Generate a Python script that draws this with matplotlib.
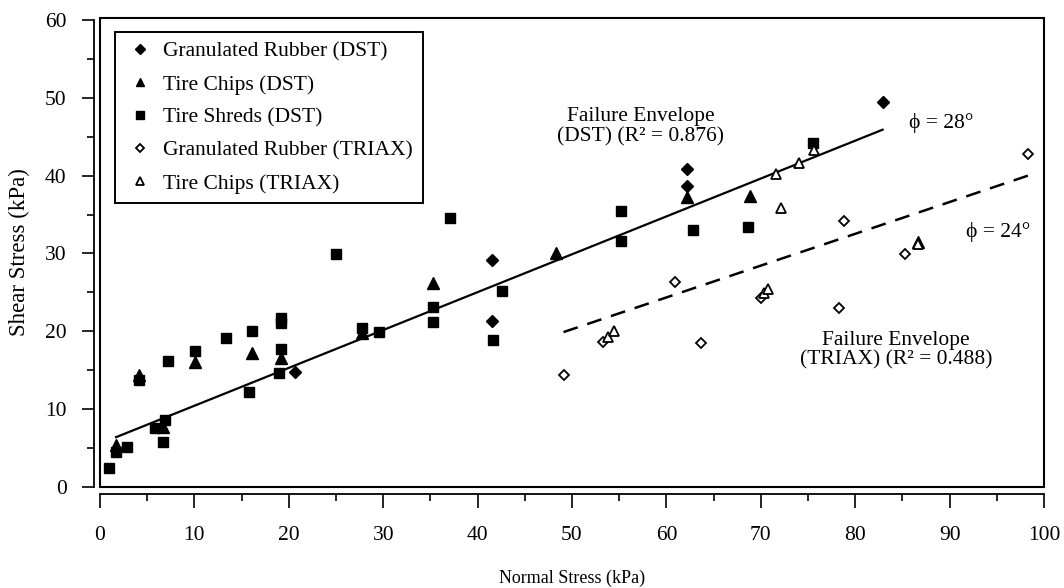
import matplotlib
matplotlib.use('Agg')
import matplotlib.pyplot as plt
from matplotlib.patches import Rectangle
from matplotlib.ticker import MultipleLocator

plt.rcParams['font.family'] = ['Liberation Serif', 'DejaVu Serif']

# 直剪试验 (DST)
gr_dst_x = [82.9, 62.2, 62.2, 41.5, 41.5, 20.7]
gr_dst_y = [49.5, 40.9, 38.7, 29.2, 21.3, 14.8]

tc_dst_x = [1.7, 4.1, 6.7, 10.1, 16.1, 19.2, 27.8, 35.3, 48.3, 62.2, 68.9, 86.6]
tc_dst_y = [5.4, 14.4, 7.7, 16.1, 17.2, 16.6, 19.8, 26.2, 30.1, 37.3, 37.4, 31.5]

ts_dst_x = [1.0, 1.7, 2.9, 4.1, 5.8, 6.9, 6.7, 7.2, 10.1, 13.3, 15.8, 16.1, 19.2, 19.2,
            19.2, 19.0, 25.0, 27.8, 29.6, 35.3, 35.3, 37.1, 41.6, 42.6, 55.2, 55.2,
            62.8, 68.6, 75.5]
ts_dst_y = [2.4, 4.5, 5.1, 13.8, 7.6, 8.6, 5.8, 16.2, 17.5, 19.2, 12.2, 20.1, 21.7, 21.1,
            17.7, 14.7, 29.9, 20.4, 19.9, 23.1, 21.2, 34.6, 18.9, 25.2, 35.5, 31.6,
            33.0, 33.4, 44.2]

# 三轴试验 (TRIAX)
gr_tri_x = [49.1, 53.3, 60.9, 63.7, 70.0, 78.3, 78.8, 85.3, 98.3]
gr_tri_y = [14.4, 18.6, 26.3, 18.5, 24.3, 23.0, 34.2, 29.9, 42.8]

tc_tri_x = [53.8, 54.4, 70.3, 70.8, 71.6, 72.1, 74.0, 75.6, 86.6]
tc_tri_y = [19.3, 20.1, 24.9, 25.4, 40.2, 35.9, 41.6, 43.3, 31.2]

# 破坏包络线端点
env_dst_x = [1.7, 82.9]
env_dst_y = [6.4, 45.9]
env_tri_x = [49.1, 98.3]
env_tri_y = [19.9, 40.0]

fig = plt.figure(figsize=(10.64, 5.88), dpi=100)
ax = fig.add_axes([100 / 1064, 1 - 487 / 588, 944 / 1064, 469 / 588])

ax.plot(env_dst_x, env_dst_y, color='black', lw=1.6, zorder=2)
ax.plot(env_tri_x, env_tri_y, color='black', lw=1.8, ls=(0, (6, 4)), zorder=2)

ax.plot(gr_dst_x, gr_dst_y, 'D', ms=6, color='black', ls='none',
        label='Granulated Rubber (DST)', zorder=3)
ax.plot(tc_dst_x, tc_dst_y, '^', ms=8, color='black', ls='none',
        label='Tire Chips (DST)', zorder=3)
ax.plot(ts_dst_x, ts_dst_y, 's', ms=7, color='black', ls='none',
        label='Tire Shreds (DST)', zorder=3)
ax.plot(gr_tri_x, gr_tri_y, 'D', ms=5.5, mfc='white', mec='black', mew=1.3, ls='none',
        label='Granulated Rubber (TRIAX)', zorder=3)
ax.plot(tc_tri_x, tc_tri_y, '^', ms=7.5, mfc='white', mec='black', mew=1.3, ls='none',
        label='Tire Chips (TRIAX)', zorder=3)

ax.set_xlim(0, 100)
ax.set_ylim(0, 60.25)

# 外框 + 分离的坐标轴
for s in ['top', 'right']:
    ax.spines[s].set_visible(False)
ax.spines['left'].set_position(('outward', 4.5))
ax.spines['bottom'].set_position(('outward', 5))
ax.spines['left'].set_bounds(0, 60)
ax.spines['left'].set_linewidth(1.3)
ax.spines['bottom'].set_linewidth(1.3)
ax.add_patch(Rectangle((0, 0), 1, 1, transform=ax.transAxes, fill=False,
                       lw=1.5, ec='black', clip_on=False, zorder=4))

ax.xaxis.set_major_locator(MultipleLocator(10))
ax.xaxis.set_minor_locator(MultipleLocator(5))
ax.yaxis.set_major_locator(MultipleLocator(10))
ax.yaxis.set_minor_locator(MultipleLocator(5))
ax.tick_params(axis='x', which='major', length=10, width=1.2, pad=13, labelsize=15.5)
ax.tick_params(axis='x', which='minor', length=5, width=1.2)
ax.tick_params(axis='y', which='major', length=8.5, width=1.2, pad=11, labelsize=15.5)
ax.tick_params(axis='y', which='minor', length=5, width=1.2)

ax.set_xlabel('Normal Stress (kPa)', fontsize=13, labelpad=18)
ax.set_ylabel('Shear Stress (kPa)', fontsize=16.5, labelpad=11)

ax.text(57.3, 46.3, 'Failure Envelope\n(DST) (R² = 0.876)', ha='center', va='center',
        fontsize=15.5, linespacing=1.05)
ax.text(84.3, 17.6, 'Failure Envelope\n(TRIAX) (R² = 0.488)', ha='center', va='center',
        fontsize=15.5, linespacing=1.05)
ax.text(89.1, 46.8, 'ϕ = 28°', ha='center', va='center', fontsize=15.5)
ax.text(95.1, 32.8, 'ϕ = 24°', ha='center', va='center', fontsize=15.5)

leg = ax.legend(loc='upper left', bbox_to_anchor=(0.016, 0.97), borderaxespad=0,
                fontsize=15.5, frameon=True, fancybox=False, edgecolor='black',
                framealpha=1, labelspacing=0.6, handletextpad=0.35, borderpad=0.45,
                handlelength=1.43, markerscale=0.8)
leg.get_frame().set_linewidth(1.4)

fig.savefig('out.png', dpi=100)
